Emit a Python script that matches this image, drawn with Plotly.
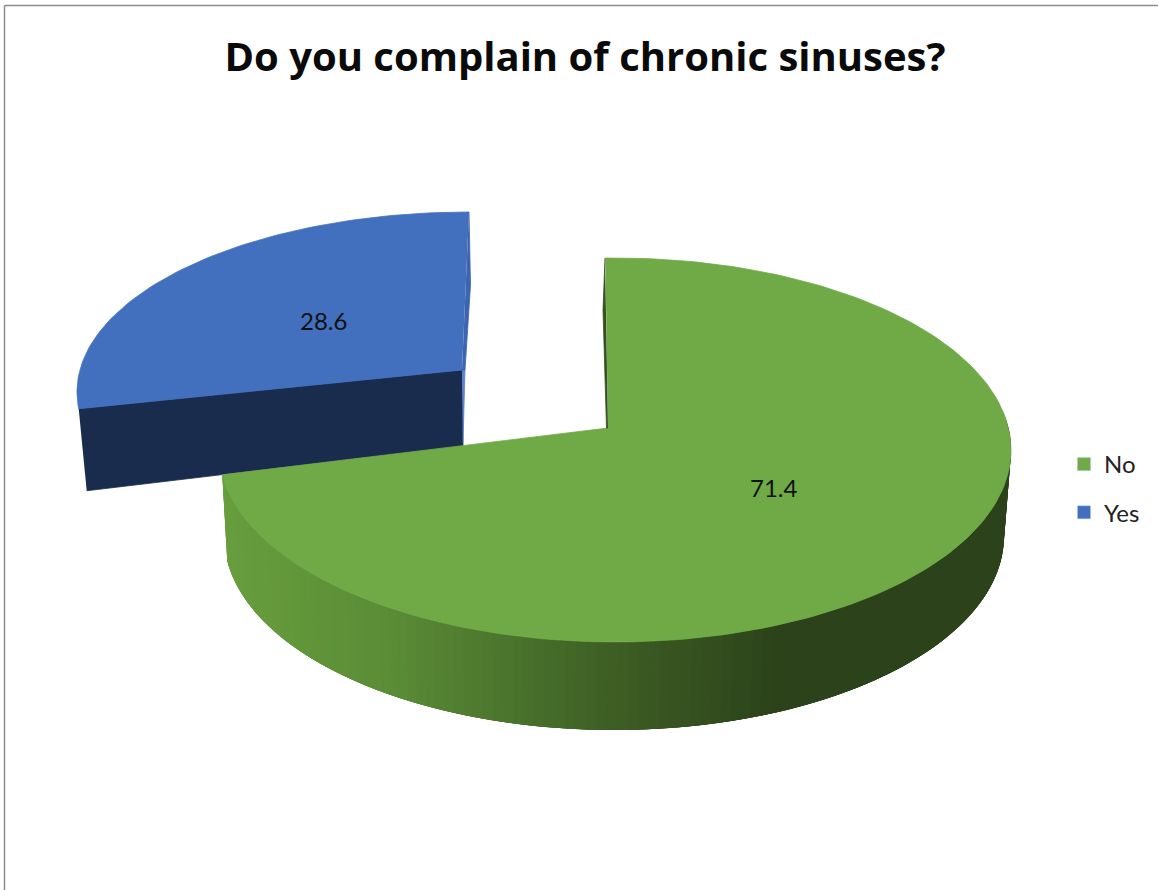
import numpy as np
import plotly.graph_objects as go

TITLE = "Do you complain of chronic sinuses?"
CATEGORIES = ["No", "Yes"]
VALUES = [71.4, 28.6]
COLOURS = ["#6FAA46", "#4270BE"]
FONT = "Lato"
TITLE_FONT = "Open Sans"

W, H = 1159, 890
fig = go.Figure()


def poly(xs, ys, colour, lw=0.8):
    fig.add_trace(go.Scatter(
        x=list(xs), y=list(ys), mode="lines", fill="toself", fillcolor=colour,
        line=dict(color=colour, width=lw), hoverinfo="skip", showlegend=False))


def side_colour(x):
    stops_x = [225, 400, 600, 790, 1011]
    stops_c = np.array([[104, 158, 62], [90, 140, 54], [64, 98, 38], [44, 66, 26], [44, 66, 26]], float)
    c = [np.interp(x, stops_x, stops_c[:, i]) for i in range(3)]
    return "rgb(%d,%d,%d)" % tuple(c)


total = sum(VALUES)
sweep_no = 360 * VALUES[0] / total
sweep_yes = 360 * VALUES[1] / total

# ---- exploded "Yes" slice ----
APEX_Y = (462, 370)
C_Y, RX_Y, RY_Y = (469, 392), 392, 180
t_y = np.radians(np.linspace(360, 360 - sweep_yes * 0.926, 80))
ax = C_Y[0] + RX_Y * np.sin(t_y)
ay = C_Y[1] - RY_Y * np.cos(t_y)
# front wall and thin inner wall
poly([ax[-1], APEX_Y[0], APEX_Y[0] + 1, ax[-1] + 8],
     [ay[-1], APEX_Y[1], APEX_Y[1] + 76, ay[-1] + 82], "#1A2C4E")
poly([APEX_Y[0], APEX_Y[0] + 3, APEX_Y[0] + 1], [APEX_Y[1], APEX_Y[1], APEX_Y[1] + 73], "#5B82CC")
poly(list(ax) + [APEX_Y[0]], list(ay) + [APEX_Y[1]], COLOURS[1])
poly([469, 470.5, 465, 462], [212, 285, 370, 370], "#3B65AE")

# ---- main "No" slice ----
APEX_N = (608, 428)
C_T, RX_T, RY_T = (615, 450), 396, 192
C_B, RX_B, RY_B = (614, 536), 390, 194
T0 = -1.4
T1 = T0 + sweep_no * 1.027

# curved outer wall, drawn as overlapping shaded strips (no seams)
edges = np.linspace(78, T1, 121)
step = edges[1] - edges[0]
for a in edges[:-1]:
    b = min(a + 4 * step, T1)
    ts = np.radians(np.linspace(a, b, 6))
    xs = list(C_T[0] + RX_T * np.sin(ts)) + list(C_B[0] + RX_B * np.sin(ts[::-1]))
    ys = list(C_T[1] - RY_T * np.cos(ts)) + list(C_B[1] - RY_B * np.cos(ts[::-1]))
    poly(xs, ys, side_colour(C_T[0] + RX_T * np.sin(np.radians(a))), lw=0)

t_n = np.radians(np.linspace(T0, T1, 200))
nx = C_T[0] + RX_T * np.sin(t_n)
ny = C_T[1] - RY_T * np.cos(t_n)
poly(list(nx) + [APEX_N[0]], list(ny) + [APEX_N[1]], COLOURS[0])
poly([605, 603, 606.5, 608], [258, 310, 428, 428], "#34501F")

# ---- legend ----
for name, colour in zip(CATEGORIES, COLOURS):
    fig.add_trace(go.Scatter(
        x=[None], y=[None], mode="markers", name=name, legendgroup=name,
        marker=dict(symbol="square", size=13, color=colour,
                    line=dict(color="#A9C4E6", width=0.5))))

# ---- data labels ----
fig.add_annotation(x=774, y=487, text=str(VALUES[0]), showarrow=False,
                   font=dict(family=FONT, size=24, color="#111111"))
fig.add_annotation(x=323, y=320, text=str(VALUES[1]), showarrow=False,
                   font=dict(family=FONT, size=24, color="#111111"))

FRAME = "#8C8C8C"
fig.update_layout(
    width=W, height=H, autosize=False,
    margin=dict(l=0, r=0, t=0, b=0),
    paper_bgcolor="white", plot_bgcolor="white",
    title=dict(text="<b>%s</b>" % TITLE, x=585 / W, xanchor="center",
               y=1 - 57 / H, yanchor="middle",
               font=dict(family=TITLE_FONT, size=40, color="#0A0A0A")),
    xaxis=dict(range=[0, W], visible=False, fixedrange=True),
    yaxis=dict(range=[H, 0], visible=False, fixedrange=True),
    legend=dict(x=1064 / W, y=1 - 442 / H, xanchor="left", yanchor="top",
                tracegroupgap=14, bgcolor="rgba(0,0,0,0)", borderwidth=0,
                font=dict(family=FONT, size=24, color="#222222")),
    shapes=[
        dict(type="line", x0=4.5, x1=4.5, y0=5.5, y1=H, line=dict(color=FRAME, width=1.5)),
        dict(type="line", x0=4.5, x1=1158, y0=5.5, y1=5.5, line=dict(color=FRAME, width=1.5)),
    ],
)
fig.write_html("out.html", config={"displayModeBar": False},
               post_script="document.body.style.margin='0';document.body.style.overflow='hidden';")
